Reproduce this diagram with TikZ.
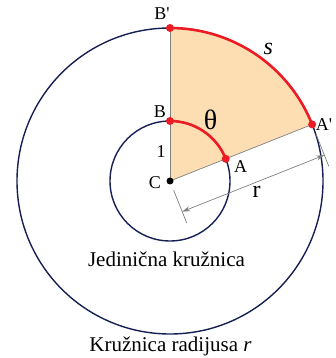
\documentclass[tikz,border=0pt]{standalone}
\usepackage{fontspec}
\setmainfont{Liberation Serif}
\usetikzlibrary{arrows.meta}
\definecolor{navy}{RGB}{22,32,84}
\definecolor{arcred}{RGB}{236,28,36}
\definecolor{sector}{RGB}{252,222,178}
\tikzstyle{circ} = [
    draw=navy,
    line width=1.4pt
]
\tikzstyle{redarc} = [
    draw=arcred,
    line width=2.6pt
]
\tikzstyle{edge} = [
    draw=gray,
    line width=0.7pt
]
\tikzstyle{reddot} = [
    circle,
    fill=arcred,
    inner sep=0pt,
    minimum size=8pt
]
\tikzstyle{centerdot} = [
    circle,
    fill=black,
    inner sep=0pt,
    minimum size=7pt
]
\tikzstyle{lbl} = [font=\fontsize{18}{22}\selectfont, inner sep=0pt]
\tikzstyle{caption} = [font=\fontsize{21}{25}\selectfont, inner sep=0pt, anchor=base]
\tikzstyle{arrow} = [draw=gray, line width=0.7pt, {Stealth[length=8pt,width=5pt]}-{Stealth[length=8pt,width=5pt]}]

\begin{document}
\begin{tikzpicture}[x=1pt, y=1pt]
\useasboundingbox (-170,-177) rectangle (165,181);

\coordinate (C) at (0,0);
\coordinate (A) at (21.7:60);
\coordinate (B) at (90:60);
\coordinate (Ap) at (21.7:153);
\coordinate (Bp) at (90:153);

\fill [sector] (C) -- (Ap) arc[start angle=21.7, end angle=90, radius=153] -- cycle;

\draw [circ] (C) circle[radius=60];
\draw [circ] (C) circle[radius=153];

\draw [edge] (C) -- (Bp);
\draw [edge] (C) -- (Ap);

\draw [redarc] (B) arc[start angle=90, end angle=21.7, radius=60];
\draw [redarc] (Bp) arc[start angle=90, end angle=21.7, radius=153];

% dimension r
\path (C) ++(-68.3:10) coordinate (extC1) ++(-68.3:35) coordinate (extC2);
\path (Ap) ++(-68.3:10) coordinate (extA1) ++(-68.3:35) coordinate (extA2);
\path (C) ++(-68.3:33) coordinate (dimC);
\path (Ap) ++(-68.3:33) coordinate (dimA);
\draw [edge] (extC1) -- (extC2);
\draw [edge] (extA1) -- (extA2);
\draw [arrow] (dimC) -- (dimA);

\node (dotC) [centerdot] at (C) {};
\node (dotA) [reddot] at (A) {};
\node (dotB) [reddot] at (B) {};
\node (dotAp) [reddot] at (Ap) {};
\node (dotBp) [reddot] at (Bp) {};

\node (labC) [lbl] at (-15,-2) {C};
\node (labA) [lbl] at (70.7,14.3) {A};
\node (labB) [lbl] at (-10,69) {B};
\node (labAp) [lbl] at (154,56) {A\textquotesingle};
\node (labBp) [lbl] at (-8,167) {B\textquotesingle};
\node (labone) [lbl] at (-9,29) {1};
\node (theta) [font=\fontsize{28}{32}\selectfont, inner sep=0pt] at (40.7,61) {θ};
\node (labs) [font=\fontsize{24}{28}\selectfont\itshape, inner sep=0pt] at (98.3,131.7) {s};
\node (labr) [font=\fontsize{24}{28}\selectfont, inner sep=0pt] at (86.7,-10.7) {r};

\node (unit) [caption] at (-3.5,-85) {Jedinična kružnica};
\node (radius) [caption] at (0.5,-170.5) {Kružnica radijusa \textit{r}};

\end{tikzpicture}
\end{document}
